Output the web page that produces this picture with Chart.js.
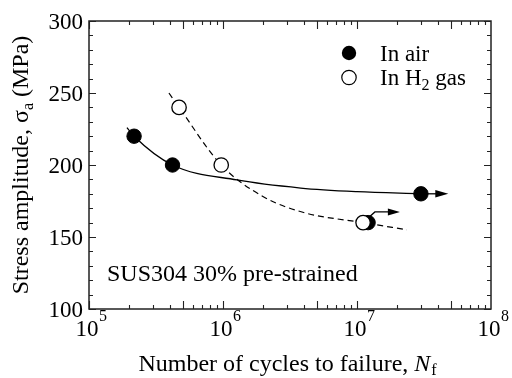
<!DOCTYPE html>
<html>
<head>
<meta charset="utf-8">
<script src="https://cdn.jsdelivr.net/npm/chart.js@4/dist/chart.umd.min.js"></script>
<style>
html,body{margin:0;padding:0;background:#fff;}
#wrap{width:512px;height:378px;}
</style>
</head>
<body>
<div id="wrap"><canvas id="c" width="512" height="378"></canvas></div>
<script>
// ---- data ----
const airN = [2.17e5, 4.2e5, 1.21e7, 3.0e7];
const airS = [220, 200, 160, 180];
const h2N  = [4.7e5, 9.7e5, 1.11e7];
const h2S  = [240, 200, 160];
// fitted curves
const airFitN = [1.92e5, 2.17e5, 4.2e5, 1.27e6, 3.8e6, 1.0e7, 3.0e7];
const airFitS = [226, 220, 200, 189.6, 184, 181.5, 180];
const h2FitN  = [3.95e5, 4.7e5, 9.7e5, 2.0e6, 4.0e6, 1.11e7, 2.36e7];
const h2FitS  = [250, 240, 200, 178, 167, 160, 155];
// run-out arrows (data units)
const airArrowN = [3.0e7, 4.8e7];
const airArrowS = [180, 180];
const h2ArrowN  = [1.11e7, 1.36e7, 2.09e7];
const h2ArrowS  = [160, 167.4, 167.4];
// axes
const xDecadeExp = [5, 6, 7, 8];
const yTickVals = [100, 150, 200, 250, 300];
const legendLabels = ['In air', 'In H', '2', ' gas'];
const yTitleParts = ['Stress amplitude, σ', 'a', ' (MPa)'];
const xTitleParts = ['Number of cycles to failure, ', 'N', 'f'];
const noteText = 'SUS304 30% pre-strained';

const pts = (xs, ys) => xs.map((v, i) => ({x: v, y: ys[i]}));
const SERIF = '"Liberation Serif", "Times New Roman", serif';
const INK = '#000';

function arrowPath(ctx, xs, ys, xScale, yScale, headLen, headHalf) {
  const p = xs.map((v, i) => [xScale.getPixelForValue(v), yScale.getPixelForValue(ys[i])]);
  const tip = p[p.length - 1];
  ctx.beginPath();
  ctx.moveTo(p[0][0], p[0][1]);
  for (let i = 1; i < p.length - 1; i++) ctx.lineTo(p[i][0], p[i][1]);
  ctx.lineTo(tip[0] - headLen + 1, tip[1]);
  ctx.stroke();
  ctx.beginPath();
  ctx.moveTo(tip[0], tip[1]);
  ctx.lineTo(tip[0] - headLen, tip[1] - headHalf);
  ctx.lineTo(tip[0] - headLen, tip[1] + headHalf);
  ctx.closePath();
  ctx.fill();
}

const decor = {
  id: 'decor',
  beforeDatasetsDraw(chart) {
    const {ctx, scales: {x, y}} = chart;
    ctx.save();
    ctx.strokeStyle = INK; ctx.fillStyle = INK; ctx.lineWidth = 1.3;
    arrowPath(ctx, airArrowN, airArrowS, x, y, 13, 3.8);
    arrowPath(ctx, h2ArrowN, h2ArrowS, x, y, 12, 3.5);
    ctx.restore();
  },
  afterDraw(chart) {
    const {ctx, chartArea: {left, right, top, bottom}, scales: {x, y}} = chart;
    ctx.save();
    ctx.strokeStyle = '#222'; ctx.fillStyle = INK;
    ctx.lineWidth = 1.5;
    ctx.strokeRect(left, top, right - left, bottom - top);
    ctx.lineWidth = 1.1;
    // x ticks (log)
    ctx.beginPath();
    for (let e = xDecadeExp[0]; e < xDecadeExp[xDecadeExp.length - 1]; e++) {
      for (let m = 1; m <= 9; m++) {
        const v = m * Math.pow(10, e);
        const px = Math.round(x.getPixelForValue(v)) + 0.5;
        const len = (m === 1 || m === 5) ? 8 : 4;
        ctx.moveTo(px, bottom); ctx.lineTo(px, bottom - len);
        ctx.moveTo(px, top); ctx.lineTo(px, top + len);
      }
    }
    // y ticks
    for (let v = yTickVals[0]; v <= yTickVals[yTickVals.length - 1]; v += 10) {
      const py = Math.round(y.getPixelForValue(v)) + 0.5;
      const len = (v % 50 === 0) ? 7 : 4;
      ctx.moveTo(left, py); ctx.lineTo(left + len, py);
      ctx.moveTo(right, py); ctx.lineTo(right - len, py);
    }
    ctx.stroke();

    // y tick labels
    ctx.font = '23px ' + SERIF;
    ctx.textAlign = 'right'; ctx.textBaseline = 'alphabetic';
    yTickVals.forEach(v => {
      ctx.fillText(String(v), left - 6, y.getPixelForValue(v) + 8);
    });
    // x tick labels 10^n
    xDecadeExp.forEach(e => {
      const px = x.getPixelForValue(Math.pow(10, e));
      ctx.font = '23px ' + SERIF;
      const w = ctx.measureText('10').width;
      ctx.textAlign = 'left';
      ctx.fillText('10', px - 2 - w / 2, 336);
      ctx.font = '16px ' + SERIF;
      ctx.fillText(String(e), px - 2 + w / 2 + 0.5, 321);
    });

    // y title (rotated)
    ctx.save();
    ctx.translate(28, 165);
    ctx.rotate(-Math.PI / 2);
    ctx.textAlign = 'left';
    const fMain = '24px ' + SERIF, fSub = '16px ' + SERIF;
    ctx.font = fMain; const w1 = ctx.measureText(yTitleParts[0]).width;
    ctx.font = fSub;  const w2 = ctx.measureText(yTitleParts[1]).width;
    ctx.font = fMain; const w3 = ctx.measureText(yTitleParts[2]).width;
    let sx = -(w1 + w2 + w3) / 2;
    ctx.font = fMain; ctx.fillText(yTitleParts[0], sx, 0); sx += w1;
    ctx.font = fSub;  ctx.fillText(yTitleParts[1], sx, 5); sx += w2;
    ctx.font = fMain; ctx.fillText(yTitleParts[2], sx, 0);
    ctx.restore();

    // x title
    {
      const fI = 'italic 24px ' + SERIF;
      ctx.font = fMain; const a = ctx.measureText(xTitleParts[0]).width;
      ctx.font = fI;    const b = ctx.measureText(xTitleParts[1]).width;
      ctx.font = fSub;  const c = ctx.measureText(xTitleParts[2]).width;
      let tx = 287 - (a + b + c) / 2;
      ctx.textAlign = 'left';
      ctx.font = fMain; ctx.fillText(xTitleParts[0], tx, 371); tx += a;
      ctx.font = fI;    ctx.fillText(xTitleParts[1], tx, 371); tx += b + 1;
      ctx.font = fSub;  ctx.fillText(xTitleParts[2], tx, 375);
    }

    // annotation
    ctx.font = fMain; ctx.textAlign = 'left';
    ctx.fillText(noteText, 107, 281);

    // legend
    ctx.lineWidth = 1.2;
    ctx.beginPath(); ctx.arc(349, 53, 7.2, 0, Math.PI * 2); ctx.fillStyle = INK; ctx.fill();
    ctx.beginPath(); ctx.arc(349, 77.5, 7.2, 0, Math.PI * 2); ctx.fillStyle = '#fff'; ctx.fill();
    ctx.strokeStyle = INK; ctx.stroke();
    ctx.fillStyle = INK;
    ctx.font = '23px ' + SERIF;
    ctx.fillText(legendLabels[0], 380, 61);
    let lx = 380;
    ctx.fillText(legendLabels[1], lx, 85); lx += ctx.measureText(legendLabels[1]).width;
    ctx.font = fSub; ctx.fillText(legendLabels[2], lx, 90); lx += ctx.measureText(legendLabels[2]).width;
    ctx.font = '23px ' + SERIF; ctx.fillText(legendLabels[3], lx, 85);
    ctx.restore();
  }
};

new Chart(document.getElementById('c'), {
  type: 'scatter',
  data: {
    datasets: [
      { label: 'In H2 gas', data: pts(h2N, h2S), pointRadius: 7.2, pointHoverRadius: 7.2,
        pointBackgroundColor: '#fff', pointBorderColor: INK, pointBorderWidth: 1.3, showLine: false },
      { label: 'In air', data: pts(airN, airS), pointRadius: 7.2, pointHoverRadius: 7.2,
        pointBackgroundColor: INK, pointBorderColor: INK, pointBorderWidth: 1, showLine: false },
      { label: 'air fit', data: pts(airFitN, airFitS), showLine: true, pointRadius: 0,
        borderColor: INK, borderWidth: 1.3, cubicInterpolationMode: 'monotone', fill: false },
      { label: 'H2 fit', data: pts(h2FitN, h2FitS), showLine: true, pointRadius: 0,
        borderColor: INK, borderWidth: 1.2, borderDash: [6, 4], cubicInterpolationMode: 'monotone', fill: false }
    ]
  },
  options: {
    responsive: false,
    animation: false,
    events: [],
    layout: { padding: { left: 89, right: 21, top: 21, bottom: 69 } },
    plugins: { legend: { display: false }, tooltip: { enabled: false } },
    scales: {
      x: { type: 'logarithmic', min: 1e5, max: 1e8,
           ticks: { display: false }, grid: { display: false }, border: { display: false },
           afterFit: s => { s.height = 0; } },
      y: { type: 'linear', min: 100, max: 300,
           ticks: { display: false }, grid: { display: false }, border: { display: false },
           afterFit: s => { s.width = 0; } }
    }
  },
  plugins: [decor]
});
</script>
</body>
</html>
